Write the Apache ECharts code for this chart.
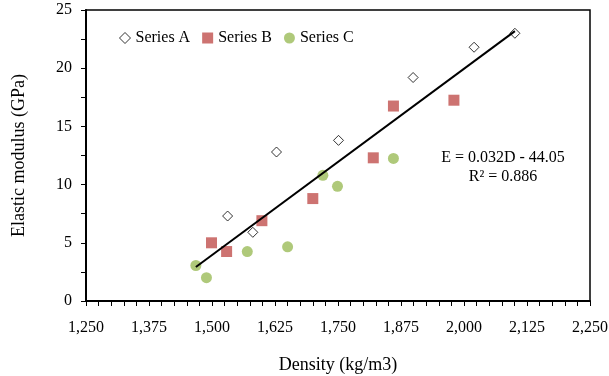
<!DOCTYPE html>
<html>
<head>
<meta charset="utf-8">
<script src="https://cdn.jsdelivr.net/npm/echarts@6/dist/echarts.min.js"></script>
<style>html,body{margin:0;padding:0;background:#fff}#c{width:609px;height:376px}</style>
</head>
<body>
<div id="c"></div>
<script>
var seriesNames = ['Series A', 'Series B', 'Series C'];
var seriesA = [[1531, 7.3], [1581, 5.9], [1628, 12.8], [1751, 13.8], [1899, 19.2], [2020, 21.8], [2101, 23.0]];
var seriesB = [[1499, 5.0], [1529, 4.25], [1599, 6.9], [1700, 8.8], [1820, 12.3], [1860, 16.75], [1980, 17.25]];
var seriesC = [[1468, 3.05], [1489, 2.0], [1570, 4.25], [1650, 4.65], [1720, 10.8], [1749, 9.85], [1860, 12.25]];
var trendSlope = 0.032;
var trendIntercept = -44.05;
var trendR2 = 0.886;
var xTicks = { min: 1250, max: 2250, interval: 125 };
var yTicks = { min: 0, max: 25, interval: 5 };

var allX = seriesA.concat(seriesB, seriesC).map(function (p) { return p[0]; });
var xMin = Math.min.apply(null, allX), xMax = Math.max.apply(null, allX);
var trendData = [[xMin, trendSlope * xMin + trendIntercept], [xMax, trendSlope * xMax + trendIntercept]];

var font = 'Liberation Serif';
var chart = echarts.init(document.getElementById('c'), null, { renderer: 'canvas' });
chart.setOption({
  animation: false,
  backgroundColor: '#fff',
  grid: { left: 86, right: 19, top: 10, bottom: 75, containLabel: false, outerBoundsMode: 'none', show: true, borderColor: '#000', borderWidth: 1.5 },
  legend: {
    data: [
      { name: seriesNames[0], itemStyle: { borderWidth: 1 } },
      { name: seriesNames[1] },
      { name: seriesNames[2] }
    ],
    left: 114, top: 25,
    itemWidth: 11, itemHeight: 11, itemGap: 12,
    textStyle: { fontFamily: font, fontSize: 16, color: '#000' }
  },
  xAxis: {
    type: 'value', min: xTicks.min, max: xTicks.max, interval: xTicks.interval,
    name: 'Density (kg/m3)', nameLocation: 'middle', nameGap: 55,
    nameTextStyle: { fontFamily: font, fontSize: 18, color: '#000' },
    axisLine: { lineStyle: { color: '#000', width: 2 } },
    axisTick: { show: true, inside: false, length: 5, lineStyle: { color: '#000', width: 1 } },
    minorTick: { show: true, splitNumber: 5, length: 5, lineStyle: { color: '#000', width: 1 } },
    splitLine: { show: false },
    axisLabel: {
      fontFamily: font, fontSize: 16, color: '#000', margin: 19,
      formatter: function (v) { return v.toLocaleString('en-US'); }
    }
  },
  yAxis: {
    type: 'value', min: yTicks.min, max: yTicks.max, interval: yTicks.interval,
    name: 'Elastic modulus (GPa)', nameLocation: 'middle', nameGap: 58,
    nameTextStyle: { fontFamily: font, fontSize: 18, color: '#000' },
    axisLine: { lineStyle: { color: '#000', width: 2 } },
    axisTick: { show: true, inside: false, length: 5, lineStyle: { color: '#000', width: 1 } },
    minorTick: { show: true, splitNumber: 2, length: 5, lineStyle: { color: '#000', width: 1 } },
    splitLine: { show: false },
    axisLabel: { fontFamily: font, fontSize: 16, color: '#000', margin: 14 }
  },
  series: [
    {
      name: seriesNames[0], type: 'scatter', data: seriesA, symbol: 'diamond', symbolSize: 10,
      itemStyle: { color: '#fff', borderColor: '#000', borderWidth: 1 }, z: 3
    },
    {
      name: seriesNames[1], type: 'scatter', data: seriesB, symbol: 'rect', symbolSize: 11,
      itemStyle: { color: '#C0504D' }, z: 3
    },
    {
      name: seriesNames[2], type: 'scatter', data: seriesC, symbol: 'circle', symbolSize: 11,
      itemStyle: { color: '#9BBB59' }, z: 3
    },
    {
      name: 'Trend', type: 'line', data: trendData, showSymbol: false, symbol: 'none',
      lineStyle: { color: '#000', width: 2 }, z: 4, silent: true
    }
  ],
  graphic: [
    {
      type: 'text', x: 503, y: 150,
      style: { text: 'E = 0.032D - 44.05', fontFamily: font, fontSize: 16, fill: '#000', textAlign: 'center', textVerticalAlign: 'top' }
    },
    {
      type: 'text', x: 503, y: 169,
      style: { text: 'R² = ' + trendR2, fontFamily: font, fontSize: 16, fill: '#000', textAlign: 'center', textVerticalAlign: 'top' }
    }
  ]
});
</script>
</body>
</html>
